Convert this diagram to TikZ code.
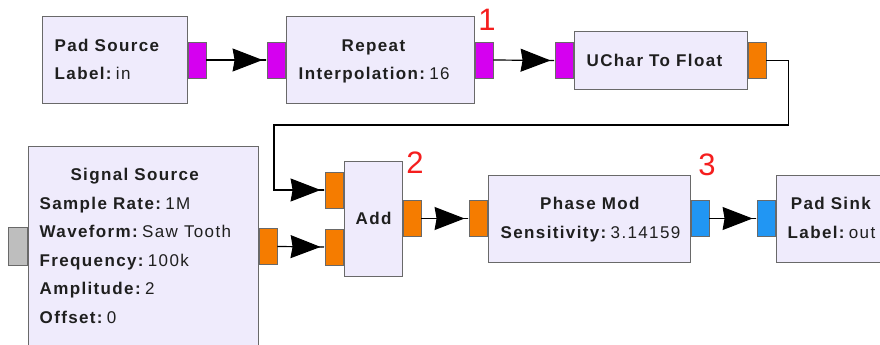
\documentclass[tikz,border=0pt]{standalone}
\usepackage{fontspec}
\setmainfont{Liberation Sans}
\newfontfamily\grcfont[LetterSpace=8]{Liberation Sans}
\usetikzlibrary{arrows.meta}
\definecolor{blockfill}{RGB}{239,235,252}
\definecolor{blockedge}{RGB}{105,105,105}
\definecolor{bytecol}{RGB}{213,0,240}
\definecolor{floatcol}{RGB}{245,124,0}
\definecolor{cplxcol}{RGB}{33,150,243}
\definecolor{msgcol}{RGB}{190,190,190}
\definecolor{numred}{RGB}{245,30,30}
\newcommand{\param}[2]{\textbf{#1:}\kern3pt#2}

\begin{document}
\begin{tikzpicture}[x=1pt,y=-1pt,
    blk/.style={draw=blockedge,fill=blockfill,line width=1pt,inner sep=0pt},
    port/.style={draw=blockedge,line width=0.9pt,minimum width=18pt,minimum height=36pt,inner sep=0pt},
    lbl/.style={anchor=west,inner sep=0pt,text=black!88,font=\grcfont\fontsize{17}{28.5}\selectfont},
    wire/.style={line width=1.2pt,-{Stealth[length=30pt,width=23pt,inset=2pt,sep=0pt]Rectangle[length=4pt,width=1.2pt]}},
    num/.style={text=numred,font=\fontsize{31}{31}\selectfont}]
    \clip (0,0) rectangle (880,345);
    \fill[white] (0,0) rectangle (880,345);
    % top row: pad source -> repeat -> uchar to float
    \node[blk,minimum width=145pt,minimum height=86pt] (padsrc) at (114.5,60) {};
    \node[blk,minimum width=188pt,minimum height=86pt] (repeat) at (380,60) {};
    \node[blk,minimum width=173pt,minimum height=58pt] (uchar) at (660.5,60.5) {};
    \node[port,fill=bytecol,anchor=west] (padsrcout) at (padsrc.east) {};
    \node[port,fill=bytecol,anchor=east] (repeatin) at (repeat.west) {};
    \node[port,fill=bytecol,anchor=west] (repeatout) at (repeat.east) {};
    \node[port,fill=bytecol,anchor=east] (ucharin) at (uchar.west) {};
    \node[port,fill=floatcol,anchor=west] (ucharout) at (uchar.east) {};
    \node[lbl] (padsrctxt) at ([xshift=13pt]padsrc.west) {\begin{tabular}{@{}l@{}}\multicolumn{1}{@{}c@{}}{\textbf{Pad Source}}\\ \param{Label}{in}\end{tabular}};
    \node[lbl] (repeattxt) at ([xshift=13pt]repeat.west) {\begin{tabular}{@{}l@{}}\multicolumn{1}{@{}c@{}}{\textbf{Repeat}}\\ \param{Interpolation}{16}\end{tabular}};
    \node[lbl] (uchartxt) at ([xshift=13pt]uchar.west) {\textbf{UChar To Float}};
    % bottom row: signal source + add -> phase mod -> pad sink
    \node[blk,minimum width=230pt,minimum height=201pt] (sigsrc) at (143,246.5) {};
    \node[blk,minimum width=58pt,minimum height=115pt] (add) at (373,218.5) {};
    \node[blk,minimum width=202pt,minimum height=87pt] (phasemod) at (589,218.5) {};
    \node[blk,minimum width=110pt,minimum height=87pt] (padsink) at (831,218.5) {};
    \node[port,fill=msgcol,anchor=east,minimum width=19pt,minimum height=38pt] (sigsrcmsg) at (sigsrc.west) {};
    \node[port,fill=floatcol,anchor=west] (sigsrcout) at (sigsrc.east) {};
    \node[port,fill=floatcol,anchor=east] (addin0) at ([yshift=28.5pt]add.west) {};
    \node[port,fill=floatcol,anchor=east] (addin1) at ([yshift=-28.5pt]add.west) {};
    \node[port,fill=floatcol,anchor=west] (addout) at (add.east) {};
    \node[port,fill=floatcol,anchor=east] (phasemodin) at (phasemod.west) {};
    \node[port,fill=cplxcol,anchor=west] (phasemodout) at (phasemod.east) {};
    \node[port,fill=cplxcol,anchor=east] (padsinkin) at (padsink.west) {};
    \node[lbl] (sigsrctxt) at ([xshift=12pt]sigsrc.west) {\begin{tabular}{@{}l@{}}\multicolumn{1}{@{}c@{}}{\textbf{Signal Source}}\\
      \param{Sample Rate}{1M}\\ \param{Waveform}{Saw Tooth}\\ \param{Frequency}{100k}\\ \param{Amplitude}{2}\\ \param{Offset}{0}\end{tabular}};
    \node[lbl] (addtxt) at ([xshift=12pt]add.west) {\textbf{Add}};
    \node[lbl] (phasemodtxt) at ([xshift=13pt]phasemod.west) {\begin{tabular}{@{}l@{}}\multicolumn{1}{@{}c@{}}{\textbf{Phase Mod}}\\ \param{Sensitivity}{3.14159}\end{tabular}};
    \node[lbl] (padsinktxt) at ([xshift=12pt]padsink.west) {\begin{tabular}{@{}l@{}}\multicolumn{1}{@{}c@{}}{\textbf{Pad Sink}}\\ \param{Label}{out}\end{tabular}};
    % connections
    \draw[wire] (padsrcout.east) -- (repeatin.west);
    \draw[wire] (repeatout.east) -- (ucharin.west);
    \draw[wire] (ucharout.east) -- ++(22,0) |- (274,125) |- (addin0.west);
    \draw[wire] (sigsrcout.east) -- (addin1.west);
    \draw[wire] (addout.east) -- (phasemodin.west);
    \draw[wire] (phasemodout.east) -- (padsinkin.west);
    % red step numbers
    \node[num] (n1) at (487,20) {1};
    \node[num] (n2) at (415,163) {2};
    \node[num] (n3) at (707,165) {3};
\end{tikzpicture}
\end{document}
